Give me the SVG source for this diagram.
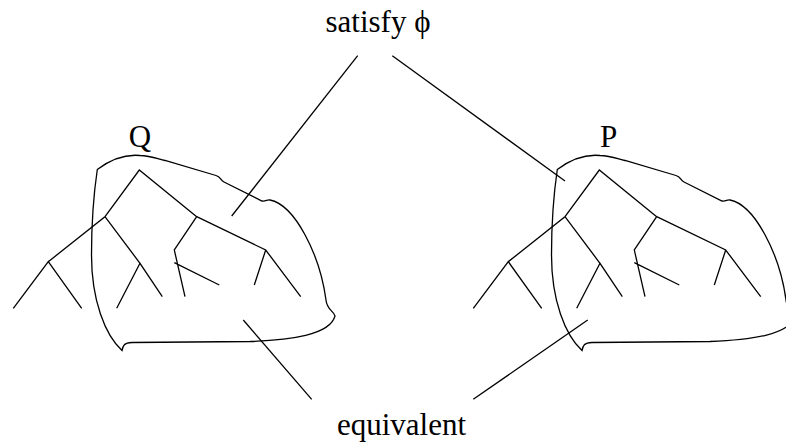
<svg xmlns="http://www.w3.org/2000/svg" width="786" height="442" viewBox="0 0 786 442">
<style>
  .ln{stroke:#000;stroke-width:1.3;fill:none;stroke-linecap:butt}
  .tx{font-family:"Liberation Serif","Times New Roman",serif;font-size:31px;fill:#000;text-anchor:middle}
</style>
<defs>
  <g id="tree">
    <path class="ln" d="M97.3,169.5 C110,160 125,154 140,155.5 C150,156 155,158 165,160.5 L216,175.5 C221,177 220,180 224,182 L262,201 C266,201.5 267,199.5 270,200 C295,205 320,255 326,300 C327,310 333,310 335,316 C330,335 290,340 250,341.5 L132,342.5 C124,342.5 123,346 122,350.5 C105,335 91.5,300 91.5,255 C91.5,215 95,185 97.3,169.5 Z"/>
    <path class="ln" d="M105,216.7 L139.3,170 L196.7,216.7 M48.3,261.7 L105,216.7 L140,263.3 M13.3,308.3 L48.3,261.7 L81.7,308.3 M116.7,308.3 L140,263.3 L162.3,296.7 M185,296.7 L174.3,250 L196.7,216.7 L265.7,250 L300.7,296.7 M254.3,285 L265.7,250 M174.3,262.7 L219.3,285"/>
  </g>
</defs>
<g id="tree-Q">
  <use href="#tree"/>
  <text class="tx" x="140" y="147">Q</text>
</g>
<g id="tree-P">
  <use href="#tree" transform="translate(460,0)"/>
  <text class="tx" x="608.5" y="147">P</text>
</g>
<g id="label-satisfy">
  <text class="tx" x="378" y="32">satisfy ϕ</text>
</g>
<g id="label-equivalent">
  <text class="tx" x="401.5" y="435">equivalent</text>
</g>
<g id="connectors">
  <line class="ln" x1="357.7" y1="55.7" x2="231.7" y2="216"/>
  <line class="ln" x1="392.3" y1="55.7" x2="565" y2="181"/>
  <line class="ln" x1="243.3" y1="320" x2="311.7" y2="399.3"/>
  <line class="ln" x1="587.7" y1="320" x2="473.3" y2="399.3"/>
</g>
</svg>
